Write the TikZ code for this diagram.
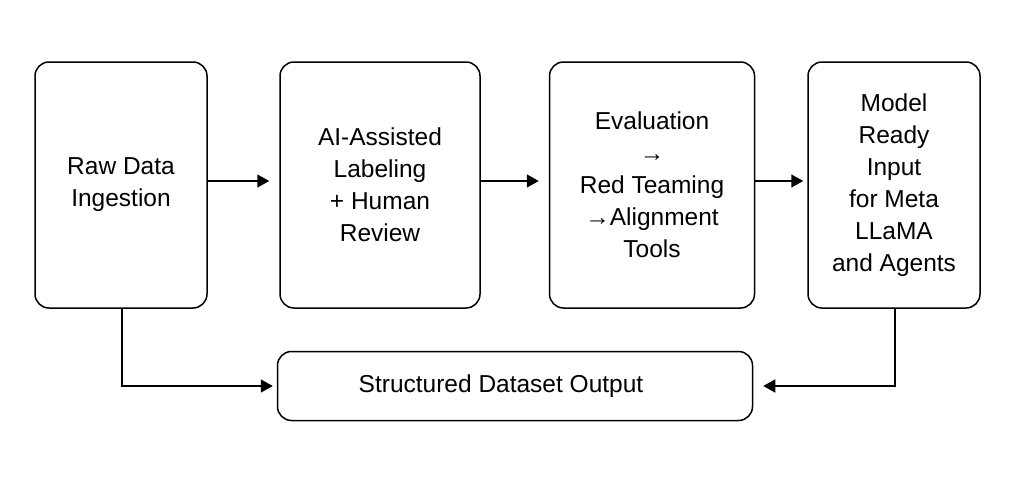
\documentclass[tikz,border=0pt]{standalone}
\usepackage{fontspec}
\setmainfont{Liberation Sans}
\usetikzlibrary{arrows.meta}
\begin{document}
\begin{tikzpicture}[x=1pt,y=-1pt,
  box/.style={draw,line width=1.5pt,rounded corners=14pt,align=center,font=\fontsize{24.5}{32}\selectfont,inner sep=0pt},
  arr/.style={line width=1.5pt,-{Triangle[length=12pt,width=13pt]},shorten >=10pt}]
\useasboundingbox[fill=white] (0,0) rectangle (1024,479);
\node[box,minimum width=172pt,minimum height=246pt] (a) at (121,185) {Raw Data\\Ingestion};
\node[box,minimum width=200pt,minimum height=246pt] (b) at (380,185) {AI-Assisted\\Labeling\\+ Human\\Review};
\node[box,minimum width=205pt,minimum height=246pt] (c) at (652,185) {Evaluation\\→\\Red Teaming\\→Alignment\\Tools};
\node[box,minimum width=172pt,minimum height=246pt] (d) at (894,185) {Model\\Ready\\Input\\for Meta\\LLaMA\\and Agents};
\node[box,minimum width=475pt,minimum height=69pt] (e) at (515,386) {};
\node[font=\fontsize{24.5}{32}\selectfont,inner sep=0pt] (et) at (501,386) {Structured Dataset Output};
\draw[arr] (a.east|-0,181) -- (b.west|-0,181);
\draw[arr] (b.east|-0,181) -- (c.west|-0,181);
\draw[arr,shorten >=4pt] (c.east|-0,181) -- (d.west|-0,181);
\draw[arr,shorten >=4pt] (122,308) |- (e.west);
\draw[arr] (895,308) |- (e.east);
\end{tikzpicture}
\end{document}
